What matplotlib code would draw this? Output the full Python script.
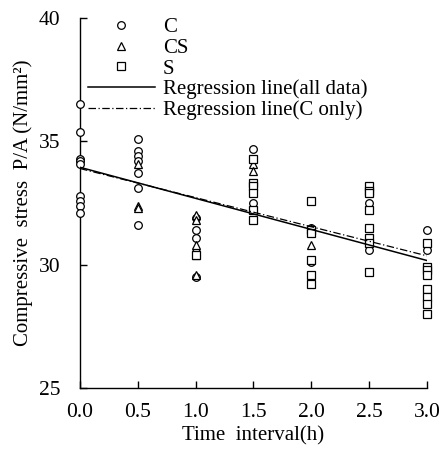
import numpy as np
import matplotlib
matplotlib.use('Agg')
import matplotlib.pyplot as plt
from matplotlib.lines import Line2D

plt.rcParams['font.family'] = ['Liberation Serif', 'DejaVu Serif']

# Data: time interval (h) and compressive stress (N/mm2)
c_x = [0.0]*9 + [0.5]*7 + [1.0]*5 + [1.5]*3 + [2.0]*2 + [2.5]*2 + [3.0]*2
c_y = [36.5, 35.4, 34.3, 34.2, 34.1, 32.8, 32.6, 32.4, 32.1,
       35.1, 34.6, 34.4, 34.2, 33.7, 33.1, 31.6,
       31.9, 31.4, 31.1, 30.5, 29.5,
       34.7, 32.5, 32.2,
       31.5, 30.1,
       32.5, 30.6,
       31.4, 30.6]

cs_x = [0.5]*3 + [1.0]*5 + [1.5]*2 + [2.0]*2
cs_y = [34.1, 32.4, 32.3,
        32.0, 31.8, 30.8, 30.4, 29.6,
        34.1, 33.8,
        31.5, 30.8]

s_x = [1.0]*1 + [1.5]*6 + [2.0]*6 + [2.5]*8 + [3.0]*8
s_y = [30.4,
       34.3, 33.3, 33.2, 32.9, 32.2, 31.8,
       32.6, 31.4, 31.3, 30.2, 29.6, 29.2,
       33.2, 33.0, 32.9, 32.2, 31.5, 31.1, 30.9, 29.7,
       30.9, 29.9, 29.8, 29.6, 29.0, 28.7, 28.4, 28.0]

# Regression lines (intercept, slope)
reg_all = (33.95, -1.26)
reg_c = (33.9, -1.18)

xticks = [0.0, 0.5, 1.0, 1.5, 2.0, 2.5, 3.0]
yticks = [25, 30, 35, 40]

fig = plt.figure(figsize=(4.42, 4.53), dpi=100)
ax = fig.add_axes([0.181, 0.1435, 0.785, 0.8165])

mk = dict(linestyle='none', markerfacecolor='white', markeredgecolor='black',
          markeredgewidth=0.9, markersize=5.5)
ax.plot(c_x, c_y, marker='o', clip_on=False, zorder=3, **mk)
ax.plot(cs_x, cs_y, marker='^', clip_on=False, zorder=3, **mk)
ax.plot(s_x, s_y, marker='s', clip_on=False, zorder=3, **mk)

xs = np.array([0.0, 3.0])
ax.plot(xs, reg_all[0] + reg_all[1]*xs, color='black', lw=1.1, zorder=4)
ax.plot(xs, reg_c[0] + reg_c[1]*xs, color='black', lw=0.9,
        linestyle=(0, (6, 2, 1, 2)), zorder=4)

ax.set_xlim(0, 3.0)
ax.set_ylim(25, 40)
ax.set_xticks(xticks)
ax.set_xticklabels([f'{t:.1f}' for t in xticks])
ax.set_yticks(yticks)
ax.set_yticklabels([str(t) for t in yticks])
ax.spines['top'].set_visible(False)
ax.spines['right'].set_visible(False)
for s in ['left', 'bottom']:
    ax.spines[s].set_linewidth(1.0)
ax.tick_params(axis='both', direction='in', length=5, width=1.0, labelsize=15.5)
ax.tick_params(axis='x', pad=11)
ax.tick_params(axis='y', pad=14)

ax.set_xlabel('Time  interval(h)', fontsize=15, labelpad=3)
ax.set_ylabel('Compressive  stress  P/A (N/mm²)', fontsize=15, labelpad=4)

handles = [
    Line2D([], [], marker='o', **mk),
    Line2D([], [], marker='^', **mk),
    Line2D([], [], marker='s', **mk),
    Line2D([], [], color='black', lw=1.1),
    Line2D([], [], color='black', lw=0.9, linestyle=(0, (6, 2, 1, 2))),
]
labels = ['C', 'CS', 'S', 'Regression line(all data)', 'Regression line(C only)']
ax.legend(handles, labels, loc='upper left', bbox_to_anchor=(0.005, 1.018),
          frameon=False, fontsize=15,
          handlelength=3.2, handletextpad=0.4, labelspacing=0.05,
          borderaxespad=0.1, borderpad=0.2)

fig.savefig('out.png', dpi=100)
